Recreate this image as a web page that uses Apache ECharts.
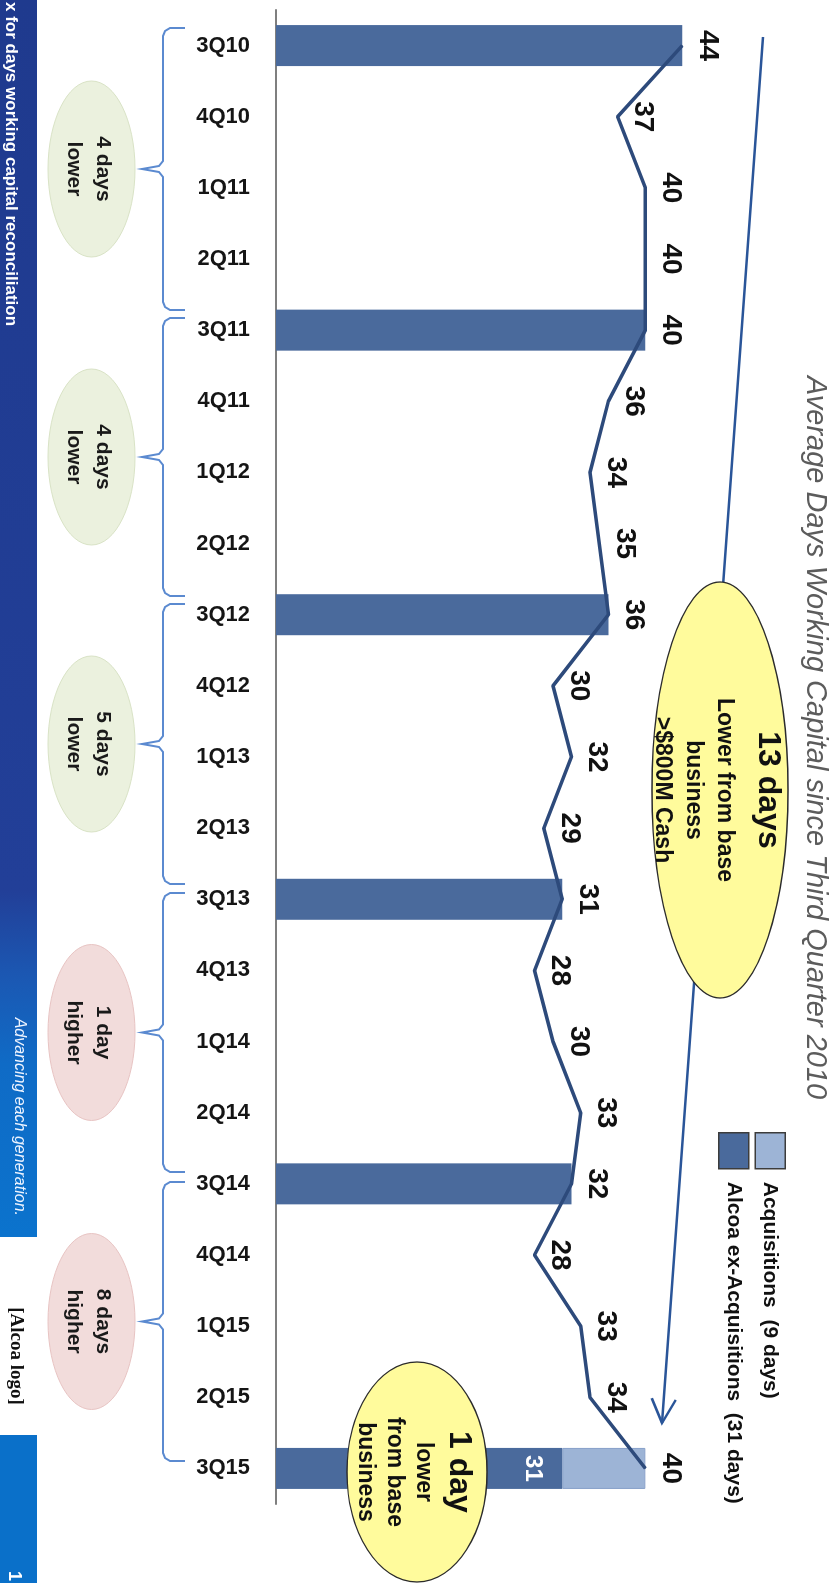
<!DOCTYPE html>
<html>
<head>
<meta charset="utf-8">
<title>Average Days Working Capital</title>
<script src="https://cdn.jsdelivr.net/npm/echarts@6/dist/echarts.min.js"></script>
<style>
    html, body { margin: 0; padding: 0; overflow: hidden; background: #fff; }
    /* the slide is laid out landscape and turned a quarter clockwise */
    #main {
        position: absolute; left: 0; top: 0;
        width: 1583px; height: 836px;
        transform-origin: 0 0;
        transform: translateX(836px) rotate(90deg);
    }
</style>
</head>
<body>
<div id="main"></div>
<script>
var categories = ['3Q10', '4Q10', '1Q11', '2Q11', '3Q11', '4Q11', '1Q12', '2Q12', '3Q12', '4Q12', '1Q13',
    '2Q13', '3Q13', '4Q13', '1Q14', '2Q14', '3Q14', '4Q14', '1Q15', '2Q15', '3Q15'];
var avgDays = [44, 37, 40, 40, 40, 36, 34, 35, 36, 30, 32, 29, 31, 28, 30, 33, 32, 28, 33, 34, 40];
var exAcqDays = [44, '-', '-', '-', 40, '-', '-', '-', 36, '-', '-', '-', 31, '-', '-', '-', 32, '-', '-', '-', 31];
var acqDays = ['-', '-', '-', '-', '-', '-', '-', '-', '-', '-', '-', '-', '-', '-', '-', '-', '-', '-', '-', '-', 9];
var legendNames = ['Acquisitions  (9 days)', 'Alcoa ex-Acquisitions  (31 days)'];
var bracketNotes = ['4 days\nlower', '4 days\nlower', '5 days\nlower', '1 day\nhigher', '8 days\nhigher'];

var FONT = '"Liberation Sans", Arial, sans-serif';

var myChart = echarts.init(document.getElementById('main'));

// brackets under the axis, one per year
var bracketSpans = [[28, 310], [318, 596], [604, 884], [893, 1172], [1182, 1461]];
var noteColors = [
    ['#ebf1de', '#d9e3c6'], ['#ebf1de', '#d9e3c6'], ['#ebf1de', '#d9e3c6'],
    ['#f2dcdb', '#e8c4c3'], ['#f2dcdb', '#e8c4c3']
];
var graphics = [];

bracketSpans.forEach(function (s, i) {
    var a = s[0], b = s[1], m = (a + b) / 2;
    graphics.push({
        type: 'polyline', z: 50,
        shape: {
            points: [[a, 651], [a, 666], [a + 3, 671], [a + 8, 673], [m - 8, 673], [m - 3, 677], [m, 694],
                [m + 3, 677], [m + 8, 673], [b - 8, 673], [b - 3, 671], [b, 666], [b, 651]]
        },
        style: {stroke: '#5b8ad0', lineWidth: 2, fill: null}
    });
    graphics.push({
        type: 'ellipse', z: 50,
        shape: {cx: m, cy: 744.5, rx: 88, ry: 43.5},
        style: {fill: noteColors[i][0], stroke: noteColors[i][1], lineWidth: 1}
    });
    graphics.push({
        type: 'text', z: 51, x: m, y: 748,
        style: {
            text: bracketNotes[i], fontFamily: FONT, fontWeight: 'bold', fontSize: 21, lineHeight: 29,
            fill: '#1a1a1a', textAlign: 'center', textVerticalAlign: 'middle'
        }
    });
});

// long arrow: 13 days lower
var p0 = [37, 73], p1 = [1423, 174];
var dx = p1[0] - p0[0], dy = p1[1] - p0[1], len = Math.sqrt(dx * dx + dy * dy);
var ux = dx / len, uy = dy / len;
graphics.push({
    type: 'line', z: 40,
    shape: {x1: p0[0], y1: p0[1], x2: p1[0], y2: p1[1]},
    style: {stroke: '#2a5599', lineWidth: 2.5}
});
graphics.push({
    type: 'polyline', z: 40,
    shape: {
        points: [
            [p1[0] - 24 * ux - 12 * uy, p1[1] - 24 * uy + 12 * ux],
            [p1[0], p1[1]],
            [p1[0] - 24 * ux + 12 * uy, p1[1] - 24 * uy - 12 * ux]
        ]
    },
    style: {stroke: '#2a5599', lineWidth: 2.5, fill: null}
});

// yellow call-outs
graphics.push({
    type: 'ellipse', z: 60,
    shape: {cx: 790, cy: 116, rx: 208, ry: 68},
    style: {fill: '#fffb9c', stroke: '#2b2b2b', lineWidth: 1.3}
});
graphics.push({
    type: 'text', z: 61, x: 790, y: 68,
    style: {text: '13 days', fontFamily: FONT, fontWeight: 'bold', fontSize: 32, fill: '#111',
        textAlign: 'center', textVerticalAlign: 'middle'}
});
graphics.push({
    type: 'text', z: 61, x: 790, y: 143,
    style: {text: 'Lower from base\nbusiness\n>$800M Cash', fontFamily: FONT, fontWeight: 'bold', fontSize: 23,
        lineHeight: 31, fill: '#111', textAlign: 'center', textVerticalAlign: 'middle'}
});
graphics.push({
    type: 'ellipse', z: 60,
    shape: {cx: 1472, cy: 419, rx: 110, ry: 70},
    style: {fill: '#fffb9c', stroke: '#2b2b2b', lineWidth: 1.3}
});
graphics.push({
    type: 'text', z: 61, x: 1472, y: 377,
    style: {text: '1 day', fontFamily: FONT, fontWeight: 'bold', fontSize: 32, fill: '#111',
        textAlign: 'center', textVerticalAlign: 'middle'}
});
graphics.push({
    type: 'text', z: 61, x: 1472, y: 442,
    style: {text: 'lower\nfrom base\nbusiness', fontFamily: FONT, fontWeight: 'bold', fontSize: 23,
        lineHeight: 29, fill: '#111', textAlign: 'center', textVerticalAlign: 'middle'}
});

// title
graphics.push({
    type: 'text', z: 30, x: 376, y: 21,
    style: {text: 'Average Days Working Capital since Third Quarter 2010', fontFamily: FONT, fontStyle: 'italic',
        fontSize: 29, fill: '#5c5c5c', textAlign: 'left', textVerticalAlign: 'middle'}
});

// footer band
graphics.push({
    type: 'rect', z: 20,
    shape: {x: 0, y: 799, width: 1237, height: 37},
    style: {
        fill: new echarts.graphic.LinearGradient(0, 0, 1, 0, [
            {offset: 0, color: '#1f3a8e'},
            {offset: 0.72, color: '#223f98'},
            {offset: 0.79, color: '#1b58b3'},
            {offset: 0.86, color: '#0f6bc6'},
            {offset: 1, color: '#0b73cd'}
        ])
    }
});
graphics.push({
    type: 'rect', z: 20,
    shape: {x: 1435, y: 799, width: 148, height: 37},
    style: {fill: '#0a70c9'}
});
graphics.push({
    type: 'text', z: 21, x: 2, y: 825,
    style: {text: 'x for days working capital reconciliation', fontFamily: FONT, fontWeight: 'bold', fontSize: 17,
        fill: '#fff', textAlign: 'left', textVerticalAlign: 'middle'}
});
graphics.push({
    type: 'text', z: 21, x: 1216, y: 817,
    style: {text: 'Advancing each generation.', fontFamily: FONT, fontStyle: 'italic', fontSize: 16,
        fill: '#eef4ff', textAlign: 'right', textVerticalAlign: 'middle'}
});
graphics.push({
    type: 'text', z: 21, x: 1356, y: 820,
    style: {text: '[Alcoa logo]', fontFamily: '"Liberation Serif", "Times New Roman", serif', fontWeight: 'bold',
        fontSize: 19, fill: '#111', textAlign: 'center', textVerticalAlign: 'middle'}
});
graphics.push({
    type: 'text', z: 21, x: 1576, y: 822,
    style: {text: '1', fontFamily: FONT, fontWeight: 'bold', fontSize: 18, fill: '#fff',
        textAlign: 'center', textVerticalAlign: 'middle'}
});

var option = {
    backgroundColor: '#fff',
    animation: false,
    grid: {left: 10, right: 79, top: 6, bottom: 276, containLabel: false},
    legend: {
        data: legendNames,
        orient: 'vertical',
        left: 1127,
        top: 45,
        itemWidth: 36,
        itemHeight: 30,
        itemGap: 5,
        icon: 'rect',
        itemStyle: {borderColor: '#3c3c3c', borderWidth: 1.5},
        textStyle: {fontFamily: FONT, fontWeight: 'bold', fontSize: 21, color: '#111', padding: [0, 0, 0, 8]}
    },
    xAxis: {
        type: 'category',
        data: categories,
        axisTick: {show: false},
        axisLine: {lineStyle: {color: '#7f7f7f', width: 2}},
        axisLabel: {
            rotate: 90,
            margin: 26,
            fontFamily: FONT,
            fontWeight: 'bold',
            fontSize: 22,
            color: '#151515'
        }
    },
    yAxis: {
        type: 'value',
        min: 0,
        max: 60,
        show: false,
        splitLine: {show: false}
    },
    series: [{
        name: legendNames[1],
        type: 'bar',
        stack: 'days',
        barWidth: 41,
        data: exAcqDays.map(function (v, i) {
            return i === exAcqDays.length - 1 ? {value: v, label: {show: true}} : v;
        }),
        itemStyle: {color: '#4a6a9c'},
        label: {
            show: false,
            position: 'insideTop',
            distance: 18,
            fontFamily: FONT,
            fontWeight: 'bold',
            fontSize: 24,
            color: '#fff'
        },
        z: 2
    }, {
        name: legendNames[0],
        type: 'bar',
        stack: 'days',
        barWidth: 41,
        data: acqDays,
        itemStyle: {color: '#9db4d6', borderColor: '#869fc8', borderWidth: 1},
        z: 2
    }, {
        name: 'Average days',
        type: 'line',
        data: avgDays,
        symbol: 'circle',
        symbolSize: 1,
        itemStyle: {color: '#2d4a7b'},
        lineStyle: {color: '#2d4a7b', width: 3.5},
        label: {
            show: true,
            position: 'top',
            distance: 11,
            fontFamily: FONT,
            fontWeight: 'bold',
            fontSize: 28,
            color: '#111'
        },
        z: 5
    }],
    graphic: {elements: graphics}
};
myChart.setOption(option);
</script>
</body>
</html>
